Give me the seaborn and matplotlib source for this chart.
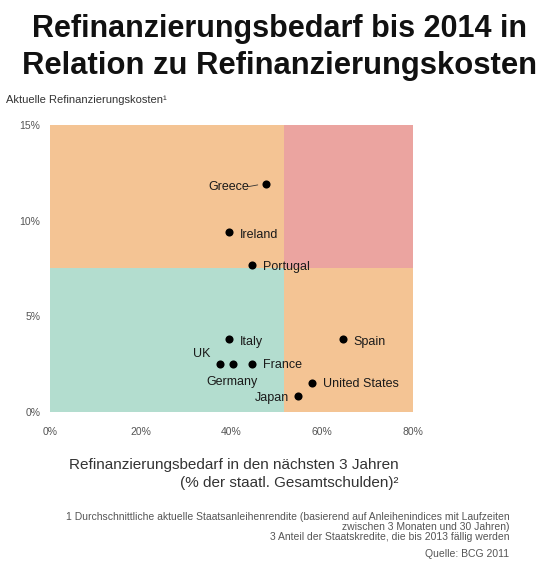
import matplotlib
matplotlib.use("Agg")
import matplotlib.pyplot as plt
import seaborn as sns
import pandas as pd
from matplotlib.ticker import PercentFormatter

countries = ["Greece", "Ireland", "Portugal", "Italy", "Spain", "UK", "Germany", "France", "United States", "Japan"]
refi_need = [47.6, 39.4, 44.6, 39.4, 64.5, 37.5, 40.3, 44.6, 57.7, 54.6]
refi_cost = [11.9, 9.4, 7.7, 3.8, 3.8, 2.5, 2.5, 2.5, 1.5, 0.8]
x_ticks = [0, 20, 40, 60, 80]
y_ticks = [0, 5, 10, 15]
x_split = 51.5
y_split = 7.5

# label offsets in points (dx, dy, ha)
offsets = {
    "Greece": (-12, -2, "right"),
    "Ireland": (8, -2, "left"),
    "Portugal": (8, -2, "left"),
    "Italy": (8, -2, "left"),
    "Spain": (8, -2, "left"),
    "UK": (-7, 7, "right"),
    "Germany": (-19, -13, "left"),
    "France": (8, -1, "left"),
    "United States": (8, -1, "left"),
    "Japan": (-6, -1, "right"),
}

df = pd.DataFrame({"country": countries, "need": refi_need, "cost": refi_cost})

sns.set_style("white")
plt.rcParams["font.family"] = ["Liberation Sans", "DejaVu Sans"]

fig = plt.figure(figsize=(5.6, 5.64), dpi=100)
fig.patch.set_facecolor("white")
ax = fig.add_axes([0.0893, 0.27, 0.648, 0.508])

orange = "#F4C494"
red = "#EBA4A0"
teal = "#B3DDCF"
ax.axvspan(0, x_split, ymin=0, ymax=y_split / 15, color=teal, lw=0, zorder=0)
ax.axvspan(x_split, 80, ymin=0, ymax=y_split / 15, color=orange, lw=0, zorder=0)
ax.axvspan(0, x_split, ymin=y_split / 15, ymax=1, color=orange, lw=0, zorder=0)
ax.axvspan(x_split, 80, ymin=y_split / 15, ymax=1, color=red, lw=0, zorder=0)

sns.scatterplot(data=df, x="need", y="cost", ax=ax, color="black", s=34, edgecolor="black", linewidth=0, zorder=3)

for c, xv, yv in zip(countries, refi_need, refi_cost):
    dx, dy, ha = offsets[c]
    ax.annotate(c, (xv, yv), xytext=(dx, dy), textcoords="offset points",
                ha=ha, va="center", fontsize=9, color="#1a1a1a", zorder=4)
# connector for Greece
gi = countries.index("Greece")
ax.annotate("", xy=(refi_need[gi] - 1.2, refi_cost[gi]), xytext=(-11, -2),
            textcoords="offset points", xycoords="data",
            arrowprops=dict(arrowstyle="-", color="#333333", lw=0.6))

ax.set_xlim(0, 80)
ax.set_ylim(0, 15)
ax.set_xticks(x_ticks)
ax.set_yticks(y_ticks)
ax.xaxis.set_major_formatter(PercentFormatter(decimals=0))
ax.yaxis.set_major_formatter(PercentFormatter(decimals=0))
ax.tick_params(axis="both", labelsize=7.5, labelcolor="#555555", length=0)
ax.tick_params(axis="x", pad=11)
ax.tick_params(axis="y", pad=7)
for s in ax.spines.values():
    s.set_visible(False)
ax.set_xlabel("")
ax.set_ylabel("")

fig.text(0.5, 0.948, "Refinanzierungsbedarf bis 2014 in", ha="center", va="center",
         fontsize=22, fontweight="bold", color="#111111")
fig.text(0.5, 0.883, "Relation zu Refinanzierungskosten", ha="center", va="center",
         fontsize=22.3, fontweight="bold", color="#111111")
fig.text(0.01, 0.822, "Aktuelle Refinanzierungskosten\u00b9", ha="left", va="center",
         fontsize=8, color="#333333")
fig.text(0.712, 0.16, "Refinanzierungsbedarf in den nächsten 3 Jahren\n(% der staatl. Gesamtschulden)\u00b2",
         ha="right", va="center", fontsize=11, color="#333333", linespacing=1.4)
fig.text(0.91, 0.066,
         "1 Durchschnittliche aktuelle Staatsanleihenrendite (basierend auf Anleihenindices mit Laufzeiten\n"
         "zwischen 3 Monaten und 30 Jahren)\n"
         "3 Anteil der Staatskredite, die bis 2013 fällig werden",
         ha="right", va="center", fontsize=7.5, color="#555555", linespacing=1.0)
fig.text(0.91, 0.018, "Quelle: BCG 2011", ha="right", va="center", fontsize=7.5, color="#555555")

fig.savefig("out.png", dpi=100, facecolor="white")
